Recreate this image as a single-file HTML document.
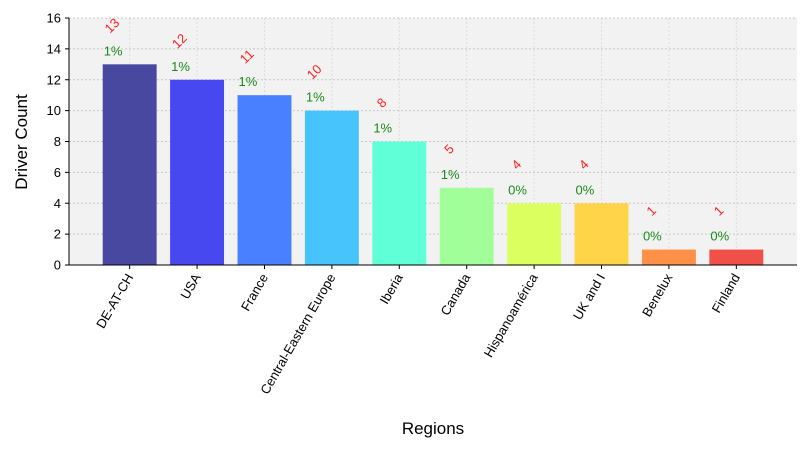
<!DOCTYPE html>
<html><head><meta charset="utf-8"><style>
body{margin:0;background:#fff;font-family:"Liberation Sans",sans-serif}
svg text{font-family:"Liberation Sans",sans-serif}
</style></head><body>
<svg width="810" height="450" id="c">
<rect x="69" y="18" width="728" height="247" fill="#f2f2f2"/>
<g id="grid"></g><g id="bars"></g><g id="axes"></g>
<text x="433" y="434" text-anchor="middle" font-size="17">Regions</text>
<text transform="translate(27,142) rotate(-90)" text-anchor="middle" font-size="17">Driver Count</text>
</svg>
<script>
const categories=["DE-AT-CH","USA","France","Central-Eastern Europe","Iberia","Canada","Hispanoamérica","UK and I","Benelux","Finland"];
const values=[13,12,11,10,8,5,4,4,1,1];
const percents=["1%","1%","1%","1%","1%","1%","0%","0%","0%","0%"];
const colors=["#4848a0","#4848f0","#4880ff","#48c4fc","#60ffd8","#a0ff98","#dcff60","#ffd448","#ff9048","#f05048"];
const yTicks=[0,2,4,6,8,10,12,14,16];
const NS="http://www.w3.org/2000/svg";
const X0=69,X1=797,Y0=265,Y1=18,step=(X1-X0)/(categories.length+0.8);
const xs=i=>X0+step*(0.9+i), ys=v=>Y0-(v/16)*(Y0-Y1);
function mk(t,a,p){const e=document.createElementNS(NS,t);for(const k in a)e.setAttribute(k,a[k]);p.appendChild(e);return e;}
const grid=document.getElementById('grid'),bars=document.getElementById('bars'),axes=document.getElementById('axes');
yTicks.forEach(t=>{
 const g=mk('line',{x1:X0,x2:X1,y1:ys(t),y2:ys(t),stroke:'#c8c8c8','stroke-dasharray':'2,2'},grid);
 
 
 const tk=mk('line',{x1:X0-4,x2:X0,y1:ys(t),y2:ys(t),stroke:'#000'},axes);
 
 
 const l=mk('text',{x:X0-8,y:ys(t)+4.5,'text-anchor':'end','font-size':13},axes);l.textContent=t;
 
 
});
categories.forEach((c,i)=>{
 const x=xs(i),w=step*0.8;
 const g=mk('line',{x1:x,x2:x,y1:Y1,y2:Y0,stroke:'#dcdcdc','stroke-dasharray':'2,2'},grid);
 
 
 const b=mk('rect',{x:x-w/2,y:ys(values[i]),width:w,height:Y0-ys(values[i]),fill:colors[i]},bars);
 
 
 const p=mk('text',{x:x-w/2+1,y:ys(values[i])-9,'font-size':13,fill:'#1a8a1a'},bars);p.textContent=percents[i];
 
 
 const v=mk('text',{transform:`translate(${x-w/2+10},${ys(values[i])-38}) rotate(-45)`,'text-anchor':'middle','dominant-baseline':'middle','font-size':13,fill:'#ff2020'},bars);v.textContent=values[i];
 
 
 const tk=mk('line',{x1:x,x2:x,y1:Y0,y2:Y0+4,stroke:'#000'},axes);
 
 
 const l=mk('text',{transform:`translate(${x+4},${Y0+12}) rotate(-60)`,'text-anchor':'end','font-size':13},axes);l.textContent=c;
 
 
});
const ax=mk('path',{d:`M${X0},${Y1}V${Y0}H${X1}`,stroke:'#000',fill:'none'},axes);


</script>
</body></html>
